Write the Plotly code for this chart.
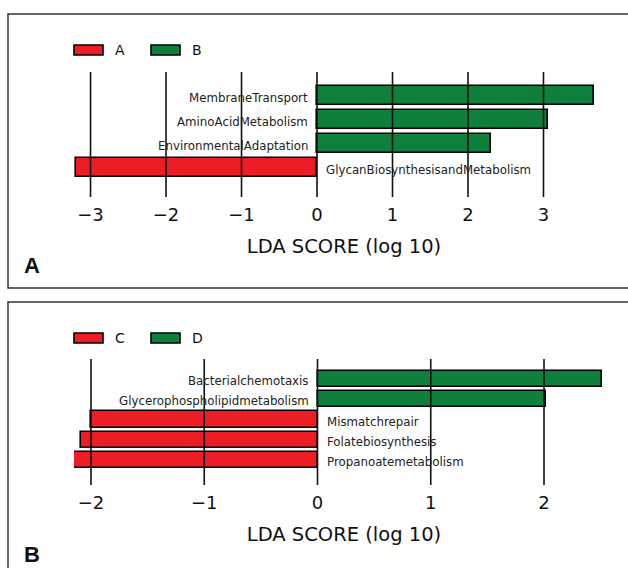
import plotly.graph_objects as go

# ---- data -------------------------------------------------------------
panel_a_features = ["MembraneTransport", "AminoAcidMetabolism",
                    "EnvironmentalAdaptation", "GlycanBiosynthesisandMetabolism"]
panel_a_scores = [3.67, 3.06, 2.31, -3.19]
panel_a_groups = ["B", "B", "B", "A"]
panel_a_classes = ["A", "B"]
panel_a_ticks = [-3, -2, -1, 0, 1, 2, 3]

panel_b_features = ["Bacterialchemotaxis", "Glycerophospholipidmetabolism",
                    "Mismatchrepair", "Folatebiosynthesis", "Propanoatemetabolism"]
panel_b_scores = [2.51, 2.02, -2.00, -2.09, -2.15]
panel_b_groups = ["D", "D", "C", "C", "C"]
panel_b_classes = ["C", "D"]
panel_b_ticks = [-2, -1, 0, 1, 2]

axis_title = "LDA SCORE (log 10)"
panel_letters = ["A", "B"]

# ---- styling ----------------------------------------------------------
W, H = 628, 568
RED = "#EC1D25"
GREEN = "#0F7F3E"
FONT = "DejaVu Sans"
class_colors = [RED, GREEN]


def py(px):
    """pixel row -> paper y"""
    return 1 - px / H


def pxx(px):
    """pixel column -> paper x"""
    return px / W


fig = go.Figure()
shapes = []
annotations = []

panels = [
    dict(features=panel_a_features, scores=panel_a_scores, groups=panel_a_groups,
         classes=panel_a_classes, ticks=panel_a_ticks, xa="x", ya="y",
         xrange=[-3.219, 3.934], yrange=[4.229, -0.979],
         ydom=[py(197), py(72)], frame=(14, 288), legend_y=50, letter_y=266),
    dict(features=panel_b_features, scores=panel_b_scores, groups=panel_b_groups,
         classes=panel_b_classes, ticks=panel_b_ticks, xa="x2", ya="y2",
         xrange=[-2.150, 2.618], yrange=[5.235, -0.988],
         ydom=[py(485), py(359)], frame=(302, 600), legend_y=338, letter_y=554),
]

for i, p in enumerate(panels):
    # bars, one trace per class
    for cls, col in zip(p["classes"], class_colors):
        xs = [s for s, g in zip(p["scores"], p["groups"]) if g == cls]
        ys = [f for f, g in zip(p["features"], p["groups"]) if g == cls]
        fig.add_trace(go.Bar(
            x=xs, y=ys, orientation="h", name=cls, width=0.8,
            marker=dict(color=col, line=dict(color="black", width=1.6)),
            xaxis=p["xa"], yaxis=p["ya"], showlegend=False,
        ))

    # feature labels beside the zero line
    for f, s in zip(p["features"], p["scores"]):
        annotations.append(dict(
            x=0, y=f, xref=p["xa"], yref=p["ya"], text=f, showarrow=False,
            xanchor="right" if s > 0 else "left", xshift=-7 if s > 0 else 7,
            yshift=-2,
            font=dict(family=FONT, size=11.8, color="#222"),
        ))

    # vertical grid lines over the bars
    for t in p["ticks"]:
        shapes.append(dict(
            type="line", xref=p["xa"], yref=p["ya"] + " domain",
            x0=t, x1=t, y0=0, y1=1, layer="above",
            line=dict(color="#111", width=1.6),
        ))

    # panel frame
    top, bottom = p["frame"]
    shapes.append(dict(
        type="rect", xref="paper", yref="paper",
        x0=pxx(8), x1=pxx(W + 20), y0=py(bottom), y1=py(top),
        line=dict(color="#333", width=1.5), layer="below",
    ))

    # legend patches
    ly = p["legend_y"]
    for cls, col, x0 in zip(p["classes"], class_colors, [74, 151]):
        shapes.append(dict(
            type="rect", xref="paper", yref="paper",
            x0=pxx(x0), x1=pxx(x0 + 29), y0=py(ly + 5), y1=py(ly - 5),
            fillcolor=col, line=dict(color="black", width=1.6), layer="above",
        ))
        annotations.append(dict(
            x=pxx(x0 + 39), y=py(ly), xref="paper", yref="paper", text=cls,
            showarrow=False, xanchor="left", yanchor="middle",
            font=dict(family=FONT, size=14, color="#111"),
        ))

    # panel letter
    annotations.append(dict(
        x=pxx(32), y=py(p["letter_y"]), xref="paper", yref="paper",
        text="<b>" + panel_letters[i] + "</b>", showarrow=False,
        xanchor="center", yanchor="middle",
        font=dict(family="Liberation Sans", size=22, color="#111"),
    ))

xaxis_common = dict(
    domain=[pxx(74), pxx(614)], showgrid=False, zeroline=False, showline=False,
    ticks="", ticklabelstandoff=5,
    tickfont=dict(family=FONT, size=18, color="#111"),
    title=dict(text=axis_title, standoff=15,
               font=dict(family=FONT, size=19.5, color="#111")),
)
yaxis_common = dict(showgrid=False, zeroline=False, showline=False,
                    showticklabels=False, ticks="")

fig.update_layout(
    width=W, height=H, margin=dict(l=0, r=0, t=0, b=0),
    paper_bgcolor="white", plot_bgcolor="white", showlegend=False,
    bargap=0,
    xaxis=dict(xaxis_common, anchor="y", range=panels[0]["xrange"],
               tickvals=panel_a_ticks),
    yaxis=dict(yaxis_common, anchor="x", domain=panels[0]["ydom"],
               range=panels[0]["yrange"], type="category",
               categoryorder="array", categoryarray=panel_a_features),
    xaxis2=dict(xaxis_common, anchor="y2", range=panels[1]["xrange"],
                tickvals=panel_b_ticks),
    yaxis2=dict(yaxis_common, anchor="x2", domain=panels[1]["ydom"],
                range=panels[1]["yrange"], type="category",
                categoryorder="array", categoryarray=panel_b_features),
    shapes=shapes,
    annotations=annotations,
)

fig.write_html("out.html")
